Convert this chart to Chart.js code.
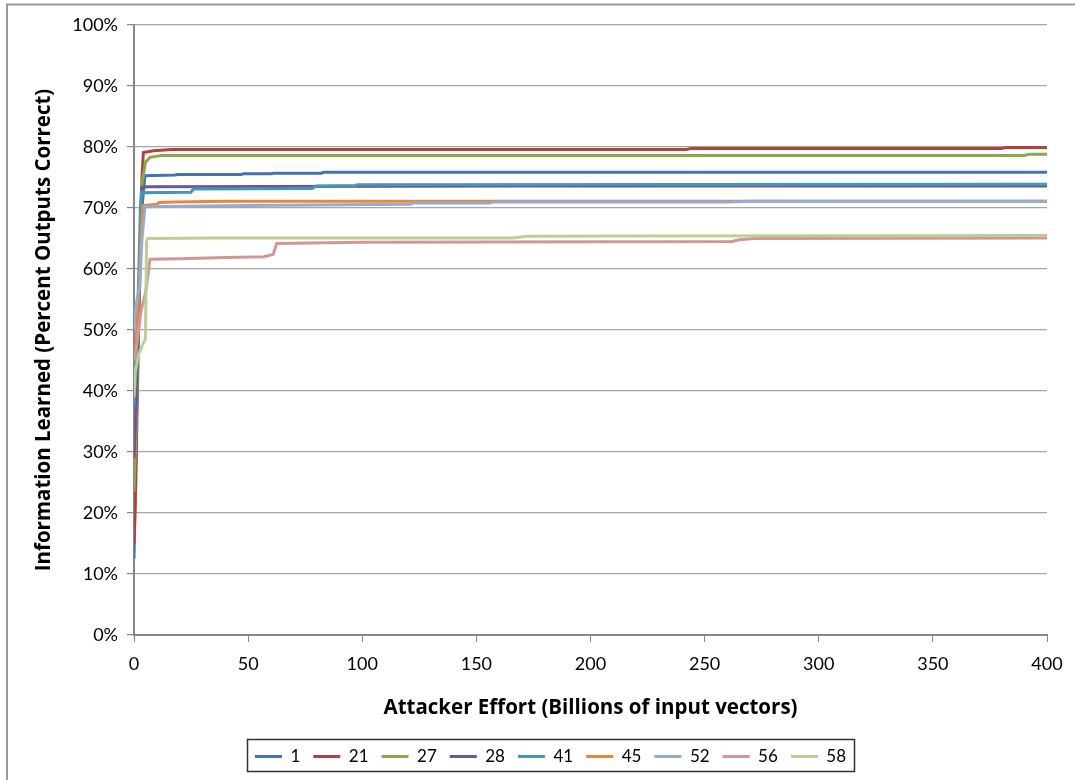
<!DOCTYPE html>
<html>
<head>
<meta charset="utf-8">
<script src="https://cdn.jsdelivr.net/npm/chart.js@4.4.1/dist/chart.umd.min.js"></script>
<style>
html,body{margin:0;padding:0;background:#fff;}
#wrap{width:1075px;height:780px;position:relative;}
canvas{display:block;}
</style>
</head>
<body>
<div id="wrap"><canvas id="c" width="1075" height="780"></canvas></div>
<script>
// ---- Data (x: billions of input vectors, y: percent outputs correct) ----
const seriesNames = ["1", "21", "27", "28", "41", "45", "52", "56", "58"];
const seriesColors = ["#4673AE", "#B3423F", "#8BA84C", "#6E5597", "#3F9AB3", "#E8873A", "#93ACD4", "#D69594", "#BACF93"];

const x_1  = [0, 0.5, 1, 1.5, 2.5, 3, 4.8, 18, 19, 47, 48, 60, 61, 82, 83, 400];
const y_1  = [12.5, 22, 35, 45, 60, 68, 75.3, 75.4, 75.5, 75.5, 75.6, 75.6, 75.7, 75.7, 75.85, 75.85];

const x_21 = [0, 0.8, 1.5, 2.5, 3.5, 4.1, 8.5, 16.5, 242, 244, 380, 382, 400];
const y_21 = [15, 25, 40, 60, 75, 79.1, 79.4, 79.6, 79.6, 79.75, 79.75, 79.9, 79.9];

const x_27 = [0, 1, 2, 3, 3.5, 5, 7, 12, 390, 392, 400];
const y_27 = [23.5, 35, 50, 65, 74, 77.5, 78.3, 78.6, 78.6, 78.8, 78.8];

const x_28 = [0, 1, 2, 2.8, 3.4, 6, 166, 400];
const y_28 = [29, 38, 52, 65, 73.4, 73.5, 73.6, 73.6];

const x_41 = [0, 1, 2, 2.8, 3.2, 25, 26, 78, 80, 97, 98, 400];
const y_41 = [37.5, 45, 58, 70, 72.5, 72.6, 73.1, 73.2, 73.6, 73.7, 73.8, 73.9];

const x_45 = [0, 1, 2, 3, 3.8, 10, 11, 18, 40, 400];
const y_45 = [45, 48, 55, 65, 70.4, 70.6, 70.9, 71.0, 71.1, 71.1];

const x_52 = [0, 0.5, 1.5, 2.5, 3.5, 4.8, 50, 121, 122, 156, 157, 260, 270, 400];
const y_52 = [50, 53, 55.5, 57, 65, 70.2, 70.4, 70.6, 70.8, 70.8, 71.0, 71.0, 71.1, 71.1];

const x_56 = [0, 1, 2, 3, 5, 6.5, 7, 20, 40, 57, 61, 62.5, 100, 262, 265, 272, 400];
const y_56 = [45, 47, 50, 53, 56, 60, 61.6, 61.7, 61.9, 62.0, 62.4, 64.2, 64.4, 64.5, 64.8, 65.0, 65.1];

const x_58 = [0, 0.5, 2, 4, 5, 5.5, 6, 35, 166, 172, 220, 400];
const y_58 = [39, 43, 46, 47.8, 48.5, 64.5, 65.0, 65.1, 65.1, 65.35, 65.4, 65.5];

const xTicks = [0, 50, 100, 150, 200, 250, 300, 350, 400];
const yTicks = [0, 10, 20, 30, 40, 50, 60, 70, 80, 90, 100];

const xTitle = "Attacker Effort (Billions of input vectors)";
const yTitle = "Information Learned (Percent Outputs Correct)";

const allX = [x_1, x_21, x_27, x_28, x_41, x_45, x_52, x_56, x_58];
const allY = [y_1, y_21, y_27, y_28, y_41, y_45, y_52, y_56, y_58];

const FONT = "Lato, 'Open Sans', sans-serif";
const TFONT = "'Open Sans', Lato, sans-serif";

const datasets = seriesNames.map((name, i) => ({
  label: name,
  data: allX[i].map((x, j) => ({x: x, y: allY[i][j]})),
  borderColor: seriesColors[i],
  backgroundColor: seriesColors[i],
  borderWidth: 3,
  pointRadius: 0,
  showLine: true,
  tension: 0,
  fill: false,
  order: -i
}));

const LEGEND_SHIFT = 27;

const framePlugin = {
  id: 'frame',
  afterUpdate(chart) {
    const lg = chart.legend;
    if (!lg) return;
    lg.left += LEGEND_SHIFT;
    lg.right += LEGEND_SHIFT;
    (lg.legendHitBoxes || []).forEach(h => { h.left += LEGEND_SHIFT; });
  },
  beforeDraw(chart) {
    const ctx = chart.ctx;
    ctx.save();
    ctx.fillStyle = '#ffffff';
    ctx.fillRect(0, 0, chart.width, chart.height);
    ctx.strokeStyle = '#999999';
    ctx.lineWidth = 2;
    ctx.strokeRect(7, 4.5, chart.width + 20, chart.height + 20);
    ctx.restore();
  },
  afterDraw(chart) {
    const lg = chart.legend;
    if (!lg || !lg.legendHitBoxes || !lg.legendHitBoxes.length) return;
    const hb = lg.legendHitBoxes;
    let l = Infinity, r = -Infinity;
    hb.forEach(h => { l = Math.min(l, h.left); r = Math.max(r, h.left + h.width); });
    const cy = (lg.top + lg.bottom) / 2;
    const ctx = chart.ctx;
    ctx.save();
    ctx.strokeStyle = '#333333';
    ctx.lineWidth = 1.5;
    ctx.strokeRect(Math.round(l - 8) + 0.5, Math.round(cy - 16) + 0.5, Math.round(r - l + 16), 32);
    ctx.restore();
  }
};

new Chart(document.getElementById('c'), {
  type: 'scatter',
  data: { datasets: datasets },
  plugins: [framePlugin],
  options: {
    responsive: false,
    animation: false,
    devicePixelRatio: 1,
    layout: { padding: { left: 0, right: 28, top: 25, bottom: 5 } },
    plugins: {
      tooltip: { enabled: false },
      legend: {
        position: 'bottom',
        labels: {
          usePointStyle: true,
          pointStyle: 'line',
          pointStyleWidth: 27,
          padding: 13,
          color: '#000',
          font: { family: FONT, size: 17 },
          sort: (a, b) => a.datasetIndex - b.datasetIndex
        }
      }
    },
    scales: {
      x: {
        type: 'linear',
        min: 0, max: 400,
        afterBuildTicks: (s) => { s.ticks = xTicks.map(v => ({value: v})); },
        afterFit: (s) => { s.height = 100; },
        border: { display: true, color: '#878787', width: 2 },
        grid: { display: true, drawOnChartArea: false, drawTicks: true, tickLength: 7, tickColor: '#878787', tickWidth: 1 },
        ticks: { color: '#000', font: { family: FONT, size: 18 }, padding: 11, maxRotation: 0 },
        title: { display: true, text: xTitle, color: '#000', font: { family: TFONT, size: 20.5, weight: 'bold' }, padding: { top: 0, bottom: 15 } }
      },
      y: {
        type: 'linear',
        min: 0, max: 100,
        afterBuildTicks: (s) => { s.ticks = yTicks.map(v => ({value: v})); },
        afterFit: (s) => { s.width = 134; },
        border: { display: true, color: '#878787', width: 2 },
        grid: { display: true, color: '#A6A6A6', lineWidth: 1.2, drawTicks: true, tickLength: 7, tickColor: '#878787' },
        ticks: { color: '#000', font: { family: FONT, size: 18 }, padding: 9, callback: (v) => v + '%' },
        title: { display: true, text: yTitle, color: '#000', font: { family: TFONT, size: 20.5, weight: 'bold' }, padding: { top: 32, bottom: 0 } }
      }
    }
  }
});
</script>
</body>
</html>
